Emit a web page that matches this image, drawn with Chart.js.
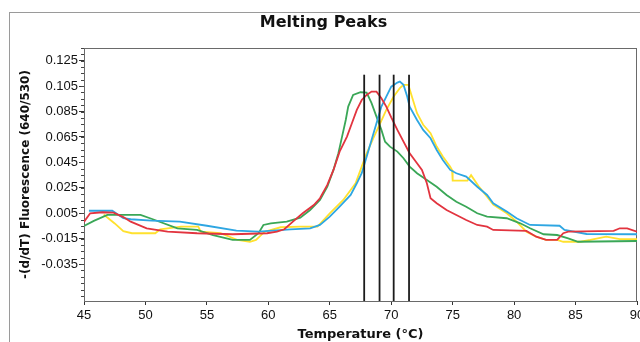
<!DOCTYPE html>
<html>
<head>
<meta charset="utf-8">
<title>Melting Peaks</title>
<script src="https://cdn.jsdelivr.net/npm/chart.js@4.4.0/dist/chart.umd.min.js"></script>
<style>
  html, body { margin: 0; padding: 0; background: #fff; overflow: hidden; }
  #frame { position: absolute; left: 9px; top: 12px; width: 700px; height: 400px; border: 1px solid #9a9a9a; }
  #wrap { position: absolute; left: 0; top: 0; width: 640px; height: 342px; }
</style>
</head>
<body>
<div id="frame"></div>
<div id="wrap"><canvas id="chart"></canvas></div>
<script>
// melting curves, [temperature, -(d/dT) fluorescence]
const redCurve = [[45.0,-0.0018],[45.5,0.0050],[46.5,0.0058],[47.4,0.0055],[48.2,0.0020],[48.8,-0.0016],[50.1,-0.0068],[51.8,-0.0095],[54.2,-0.0107],[57.1,-0.0115],[59.9,-0.0107],[60.7,-0.0095],[61.3,-0.0076],[62.0,-0.0016],[62.8,0.0050],[63.7,0.0115],[64.2,0.0168],[64.8,0.0273],[65.3,0.0391],[65.8,0.0535],[66.4,0.0653],[66.8,0.0758],[67.2,0.0863],[67.6,0.0941],[68.0,0.0981],[68.4,0.1007],[68.8,0.1007],[69.2,0.0955],[69.6,0.0889],[70.0,0.0805],[70.5,0.0706],[71.0,0.0613],[71.5,0.0522],[72.1,0.0443],[72.5,0.0391],[72.9,0.0286],[73.2,0.0168],[73.7,0.0129],[74.5,0.0076],[75.3,0.0037],[76.1,-0.0003],[77.0,-0.0042],[77.8,-0.0055],[78.3,-0.0081],[81.0,-0.0089],[81.8,-0.0134],[82.6,-0.0160],[83.5,-0.0160],[84.0,-0.0107],[84.4,-0.0095],[88.1,-0.0089],[88.6,-0.0068],[89.2,-0.0068],[90.0,-0.0095]];
const greenCurve = [[45.0,-0.0050],[45.8,-0.0010],[46.9,0.0037],[49.6,0.0037],[50.6,0.0003],[52.6,-0.0068],[54.2,-0.0081],[55.5,-0.0121],[57.1,-0.0160],[58.5,-0.0160],[59.2,-0.0107],[59.6,-0.0042],[60.2,-0.0029],[61.5,-0.0016],[62.6,0.0015],[63.4,0.0076],[64.2,0.0155],[64.8,0.0259],[65.3,0.0391],[65.7,0.0522],[66.0,0.0653],[66.3,0.0784],[66.5,0.0889],[66.9,0.0981],[67.5,0.1002],[68.0,0.0999],[68.4,0.0916],[68.8,0.0810],[69.2,0.0706],[69.5,0.0613],[69.9,0.0574],[70.5,0.0535],[71.0,0.0483],[71.5,0.0417],[72.1,0.0365],[72.9,0.0312],[73.7,0.0259],[74.5,0.0194],[75.3,0.0141],[76.1,0.0102],[77.0,0.0050],[77.8,0.0023],[79.4,0.0011],[80.5,-0.0029],[81.3,-0.0068],[82.4,-0.0115],[83.5,-0.0121],[84.4,-0.0147],[85.2,-0.0174],[90.0,-0.0168]];
const blueCurve = [[45.4,0.0070],[47.3,0.0070],[48.2,0.0011],[48.8,0.0003],[50.5,-0.0008],[52.8,-0.0016],[55.0,-0.0048],[57.4,-0.0087],[59.2,-0.0095],[61.8,-0.0076],[63.4,-0.0068],[64.2,-0.0042],[65.0,0.0023],[65.8,0.0102],[66.7,0.0194],[67.2,0.0286],[67.6,0.0365],[68.0,0.0495],[68.4,0.0627],[68.8,0.0758],[69.2,0.0889],[69.6,0.0968],[70.0,0.1046],[70.5,0.1078],[70.7,0.1086],[71.0,0.1060],[71.3,0.0968],[71.5,0.0889],[72.1,0.0784],[72.6,0.0706],[73.2,0.0640],[73.7,0.0548],[74.2,0.0469],[74.8,0.0391],[75.3,0.0365],[76.1,0.0338],[77.0,0.0259],[77.8,0.0194],[78.3,0.0129],[79.4,0.0063],[80.2,0.0011],[81.3,-0.0042],[83.7,-0.0048],[84.1,-0.0081],[85.9,-0.0113],[90.0,-0.0115]];
const yellowCurve = [[46.6,0.0040],[47.5,-0.0030],[48.2,-0.0090],[48.9,-0.0107],[50.8,-0.0107],[51.2,-0.0076],[52.9,-0.0055],[54.3,-0.0055],[54.5,-0.0095],[56.1,-0.0107],[57.5,-0.0160],[58.5,-0.0174],[59.0,-0.0160],[59.7,-0.0095],[61.0,-0.0060],[62.6,-0.0055],[64.0,-0.0055],[65.0,0.0050],[66.1,0.0155],[67.1,0.0286],[67.6,0.0417],[68.0,0.0522],[68.6,0.0653],[69.1,0.0758],[69.6,0.0863],[70.2,0.0968],[70.7,0.1034],[71.0,0.1060],[71.4,0.1060],[71.6,0.0994],[72.1,0.0837],[72.6,0.0746],[73.2,0.0680],[73.7,0.0575],[74.2,0.0496],[74.8,0.0417],[74.95,0.0390],[75.0,0.0307],[76.2,0.0307],[76.5,0.0350],[77.1,0.0265],[77.8,0.0181],[78.3,0.0118],[79.4,0.0050],[80.2,-0.0016],[81.0,-0.0095],[81.8,-0.0134],[82.6,-0.0160],[83.5,-0.0160],[84.0,-0.0174],[85.4,-0.0174],[86.2,-0.0160],[87.5,-0.0134],[88.6,-0.0154],[90.0,-0.0154]];

// peak markers (Tm)
const peakTemps = [67.8, 69.05, 70.2, 71.45];
const peakMarkerTop = 0.114;

// axes
const xTicks = [45, 50, 55, 60, 65, 70, 75, 80, 85, 90];
const yTicks = [-0.035, -0.015, 0.005, 0.025, 0.045, 0.065, 0.085, 0.105, 0.125];
const xMin = 45, xMax = 90;
const yMin = -0.064, yMax = 0.135;
const minorStep = 0.005;

function toPoints(curve) {
    return curve.map(p => ({ x: p[0], y: p[1] }));
}

function curveSet(label, curve, color, order) {
    return {
        label: label,
        data: toPoints(curve),
        borderColor: color,
        borderWidth: 1.8,
        pointRadius: 0,
        tension: 0,
        fill: false,
        order: order
    };
}

const datasets = [];
peakTemps.forEach(function (t, i) {
    datasets.push({
        label: 'Tm ' + (i + 1),
        data: [{ x: t, y: yMin }, { x: t, y: peakMarkerTop }],
        borderColor: '#1c1c1c',
        borderWidth: 1.8,
        pointRadius: 0,
        order: 0
    });
});
datasets.push(curveSet('Red', redCurve, '#e2343f', 1));
datasets.push(curveSet('Blue', blueCurve, '#2ea6e2', 2));
datasets.push(curveSet('Green', greenCurve, '#3aa757', 3));
datasets.push(curveSet('Yellow', yellowCurve, '#ffe12e', 4));

// plot box and small ticks on the y axis
const plotFrame = {
    id: 'plotFrame',
    beforeDatasetsDraw(chart) {
        const { ctx, chartArea: a } = chart;
        ctx.save();
        ctx.strokeStyle = '#6a6a6a';
        ctx.lineWidth = 1;
        ctx.strokeRect(a.left + 0.5, a.top + 0.5, a.right - a.left - 1, a.bottom - a.top);
        ctx.restore();
    },
    afterDraw(chart) {
        const { ctx, chartArea: a, scales } = chart;
        const y = scales.y;
        ctx.save();
        ctx.strokeStyle = '#444';
        ctx.lineWidth = 1;
        const k0 = Math.ceil(y.min / minorStep), k1 = Math.floor(y.max / minorStep);
        for (let k = k0; k <= k1; k++) {
            const py = Math.round(y.getPixelForValue(k * minorStep)) + 0.5;
            ctx.beginPath();
            ctx.moveTo(a.left - 3, py);
            ctx.lineTo(a.left, py);
            ctx.stroke();
        }
        ctx.restore();
    }
};

new Chart(document.getElementById('chart'), {
    type: 'line',
    data: { datasets: datasets },
    plugins: [plotFrame],
    options: {
        responsive: true,
        maintainAspectRatio: false,
        animation: false,
        devicePixelRatio: 1,
        layout: { padding: { left: 10, right: 3, top: 0, bottom: 0 } },
        plugins: {
            legend: { display: false },
            tooltip: { enabled: false },
            title: {
                display: true,
                text: 'Melting Peaks',
                color: '#111',
                font: { family: 'DejaVu Sans', size: 16, weight: 'bold' },
                padding: { top: 13, bottom: 15.8 }
            }
        },
        scales: {
            x: {
                type: 'linear',
                min: xMin,
                max: xMax,
                afterBuildTicks: function (scale) {
                    scale.ticks = xTicks.map(v => ({ value: v }));
                },
                afterFit: function (scale) {
                    scale.height = 41;
                    scale.paddingLeft = 0;
                    scale.paddingRight = 0;
                },
                grid: { drawOnChartArea: false, tickLength: 4, color: '#333' },
                border: { color: '#333', width: 1 },
                ticks: {
                    color: '#111',
                    padding: 3,
                    maxRotation: 0,
                    font: { family: 'Liberation Sans', size: 13 },
                    callback: v => String(v)
                },
                title: {
                    display: true,
                    text: 'Temperature (°C)',
                    color: '#111',
                    font: { family: 'DejaVu Sans', size: 13, weight: 'bold' },
                    padding: { top: 0, bottom: 0 }
                }
            },
            y: {
                type: 'linear',
                min: yMin,
                max: yMax,
                afterBuildTicks: function (scale) {
                    scale.ticks = yTicks.map(v => ({ value: v }));
                },
                afterFit: function (scale) {
                    scale.width = 74;
                    scale.paddingTop = 0;
                    scale.paddingBottom = 0;
                },
                grid: { drawOnChartArea: false, tickLength: 5, color: '#333' },
                border: { color: '#333', width: 1 },
                ticks: {
                    color: '#111',
                    padding: 1,
                    font: { family: 'Liberation Sans', size: 13 },
                    callback: v => v.toFixed(3)
                },
                title: {
                    display: true,
                    text: '-(d/dT) Fluorescence (640/530)',
                    color: '#111',
                    font: { family: 'DejaVu Sans', size: 12, weight: 'bold' },
                    padding: { top: 8.8, bottom: 0 }
                }
            }
        }
    }
});
</script>
</body>
</html>
